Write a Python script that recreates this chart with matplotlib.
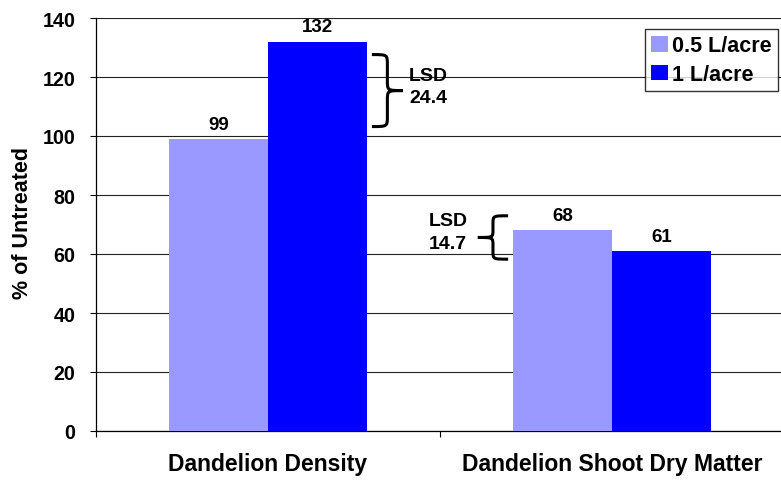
import matplotlib.pyplot as plt
from matplotlib.path import Path
from matplotlib.patches import PathPatch

plt.rcParams['font.family'] = ['Liberation Sans', 'DejaVu Sans']
plt.rcParams['font.weight'] = 'bold'

categories = ['Dandelion Density', 'Dandelion Shoot Dry Matter']
series = ['0.5 L/acre', '1 L/acre']
low_rate = [99, 68]
high_rate = [132, 61]
lsd = [24.4, 14.7]
colors = ['#9999FF', '#0000FF']

fig = plt.figure(figsize=(7.81, 4.81), dpi=100)
ax = fig.add_axes([96 / 781, 49 / 481, 688 / 781, 413 / 481])

w = 0.288
centers = [0.5, 1.5]
b1 = ax.bar([c - w / 2 for c in centers], low_rate, w, color=colors[0], label=series[0], zorder=3)
b2 = ax.bar([c + w / 2 for c in centers], high_rate, w, color=colors[1], label=series[1], zorder=3)
for bars in (b1, b2):
    for r in bars:
        ax.annotate(f'{r.get_height():g}', (r.get_x() + r.get_width() / 2, r.get_height()),
                    xytext=(0, 4.5), textcoords='offset points', ha='center', va='bottom',
                    fontsize=13.5, fontweight='bold')

ax.set_xlim(0, 2)
ax.set_ylim(0, 140)
ax.set_yticks(range(0, 141, 20))
ax.yaxis.grid(True, color='#222222', lw=0.8, zorder=0)
ax.set_xticks([0, 1, 2])
ax.set_xticklabels([])
ax.set_xticks(centers, minor=True)
ax.set_xticklabels(categories, minor=True, fontsize=16.5, fontweight='bold')
ax.tick_params(axis='x', which='minor', length=0, pad=15)
ax.tick_params(axis='x', which='major', length=4.5, width=0.8)
ax.tick_params(axis='y', length=4.5, width=0.8, labelsize=14.2, pad=10.5)
for s in ('top', 'right'):
    ax.spines[s].set_visible(False)
ax.spines['left'].set_linewidth(0.9)
ax.spines['bottom'].set_linewidth(0.9)
ax.set_ylabel('% of Untreated', fontsize=15.5, fontweight='bold')
ax.yaxis.set_label_coords(-0.092, 0.505)


def brace(ax, x_arm, x_tip, y0, y1, d):
    xm = (x_arm + x_tip) / 2
    ym = (y0 + y1) / 2
    verts = [(x_arm, y1), (xm, y1), (xm, y1), (xm, y1 - d),
             (xm, ym + d),
             (xm, ym), (xm, ym), (x_tip, ym),
             (xm, ym), (xm, ym), (xm, ym - d),
             (xm, y0 + d),
             (xm, y0), (xm, y0), (x_arm, y0)]
    codes = [Path.MOVETO, Path.CURVE4, Path.CURVE4, Path.CURVE4,
             Path.LINETO,
             Path.CURVE4, Path.CURVE4, Path.CURVE4,
             Path.CURVE4, Path.CURVE4, Path.CURVE4,
             Path.LINETO,
             Path.CURVE4, Path.CURVE4, Path.CURVE4]
    ax.add_patch(PathPatch(Path(verts, codes), fill=False, lw=2.2, color='black',
                           zorder=5, clip_on=False))


# LSD brackets, spanning the LSD value
brace(ax, 0.802, 0.892, 115.4 - lsd[0] / 2, 115.4 + lsd[0] / 2, d=3.4)
ax.text(0.910, 116.8, f'LSD\n{lsd[0]}', fontsize=14, fontweight='bold', ha='left', va='center',
        linespacing=1.45, zorder=6)
brace(ax, 1.198, 1.110, 65.6 - lsd[1] / 2, 65.6 + lsd[1] / 2, d=2.6)
ax.text(0.968, 67.5, f'LSD\n{lsd[1]}', fontsize=14, fontweight='bold', ha='left', va='center',
        linespacing=1.45, zorder=6)

leg = ax.legend(loc='upper right', bbox_to_anchor=(778 / 781, 451 / 481), bbox_transform=fig.transFigure,
                fontsize=15.5, frameon=True, fancybox=False, edgecolor='black',
                handlelength=0.75, handleheight=0.75, handletextpad=0.2, borderpad=0.3,
                labelspacing=0.35, borderaxespad=0)
leg.get_frame().set_linewidth(1.0)
leg.set_zorder(10)

fig.savefig('out.png', dpi=100)
